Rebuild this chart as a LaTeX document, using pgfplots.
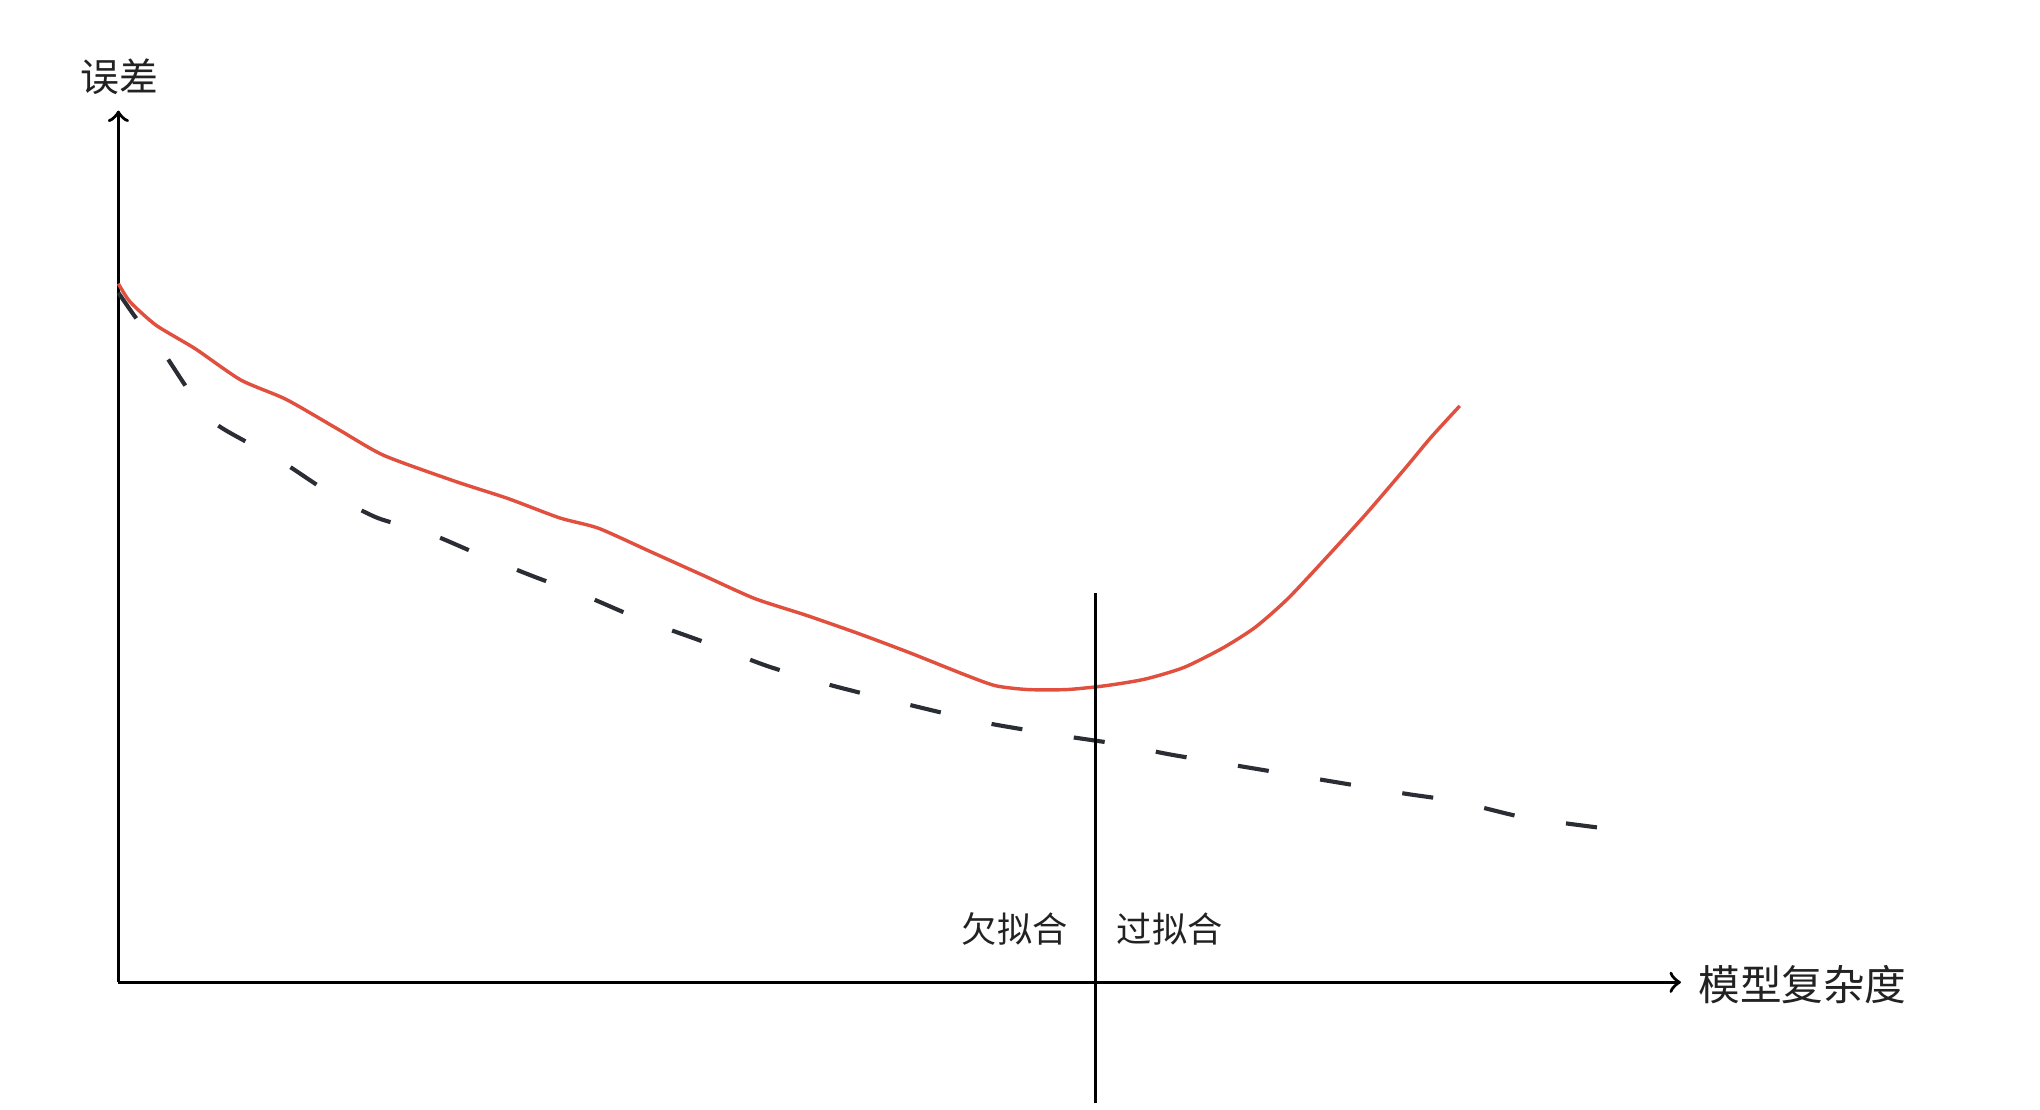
\documentclass[border=0pt]{standalone}
\usepackage{pgfplots}
\pgfplotsset{compat=1.18}
\usepackage{fontspec}
\setmainfont{Noto Sans CJK SC}
\newfontfamily\cjk{Noto Sans CJK SC}
\definecolor{redc}{HTML}{E1503F}
\definecolor{darkc}{HTML}{2A2D33}
\definecolor{txt}{HTML}{222222}
\begin{document}
\begin{tikzpicture}
\begin{axis}[
  x=0.01cm, y=0.01cm,
  xmin=91, xmax=1292, ymin=98, ymax=768,
  axis lines=left,
  axis line style={line width=0.75pt, black, -to},
  xtick=\empty, ytick=\empty,
  clip=false,
]
\path (axis cs:0,0) rectangle (axis cs:1568,853);
% red (test error)
\addplot[redc, line width=0.75pt, smooth, tension=0.4] coordinates {
(91,635) (100,621) (120,603) (150,585) (185,561) (220,546) (260,523) (295,503)
(350,483) (390,470) (430,455) (460,447) (500,429) (540,411) (580,393) (620,380)
(660,366) (700,351) (740,335) (765,326) (790,323) (820,323) (850,326) (880,331)
(910,340) (940,355) (965,371) (990,393) (1020,425) (1050,458) (1080,493) (1100,517) (1122,541)
};
% dashed (training error)
\addplot[darkc, line width=0.9pt, smooth, tension=0.4, dash pattern=on 0.24cm off 0.40cm] coordinates {
(91,628) (105,608) (125,583) (145,553) (165,528) (190,513) (220,496) (255,473)
(290,455) (330,443) (370,426) (410,410) (450,395) (490,378) (540,360) (590,341)
(640,326) (700,311) (760,297) (820,287) (860,281) (900,273) (960,263) (1020,253)
(1080,243) (1120,237) (1170,225) (1228,217)
};
% divider
\addplot[black, line width=0.7pt] coordinates {(842,5) (842,397)};
\node[txt, font=\cjk\fontsize{8.5}{10}\selectfont] at (axis cs:92,794) {误差};
\node[txt, font=\cjk\fontsize{9.1}{11}\selectfont, anchor=west] at (axis cs:1293,96) {模型复杂度};
\node[txt, font=\cjk\fontsize{7.7}{9}\selectfont] at (axis cs:780,139) {欠拟合};
\node[txt, font=\cjk\fontsize{7.7}{9}\selectfont] at (axis cs:899,139) {过拟合};
\end{axis}
\end{tikzpicture}
\end{document}
